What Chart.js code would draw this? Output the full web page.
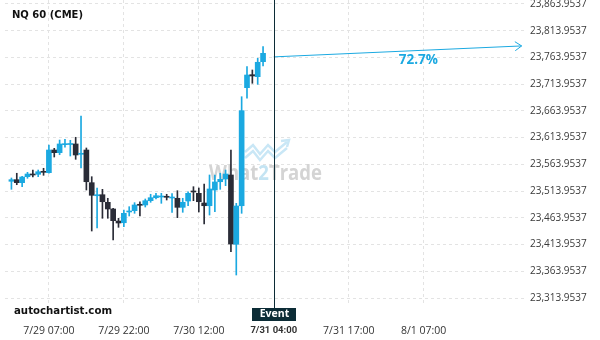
<!DOCTYPE html>
<html>
<head>
<meta charset="utf-8">
<script src="https://cdn.jsdelivr.net/npm/chart.js@4"></script>
<style>
  html, body { margin: 0; padding: 0; background: #fff; }
  #wrap { width: 600px; height: 340px; position: relative; }
</style>
</head>
<body>
<div id="wrap"><canvas id="grafico" width="600" height="340"></canvas></div>
<script>
// velas horarias NQ 60 (CME), indice de vela en el eje x
let aperturas = [23532.3, 23535.3, 23529.7, 23540.9, 23545.9, 23545.4, 23550.2, 23548.4, 23590.8, 23585.8,
  23600.8, 23601.1, 23602.1, 23582.8, 23590.8, 23529.7, 23505.3, 23507.2, 23493.0, 23480.5,
  23458.0, 23454.8, 23474.9, 23477.3, 23489.3, 23488.0, 23496.0, 23501.6, 23502.9, 23504.2,
  23501.0, 23500.5, 23483.6, 23495.4, 23514.1, 23509.8, 23491.7, 23486.6, 23516.0, 23531.5,
  23536.6, 23544.1, 23414.4, 23486.6, 23707.4, 23731.7, 23728.0, 23756.0];
let maximos = [23538.5, 23547.3, 23541.5, 23549.1, 23553.4, 23553.4, 23556.6, 23600.2, 23594.0, 23609.5,
  23610.9, 23609.0, 23614.6, 23654.4, 23594.6, 23540.9, 23519.8, 23517.3, 23500.5, 23481.8,
  23463.1, 23478.6, 23484.8, 23492.3, 23494.1, 23499.2, 23508.0, 23509.8, 23509.8, 23508.0,
  23509.1, 23514.7, 23500.5, 23512.8, 23522.2, 23519.8, 23527.2, 23544.1, 23544.1, 23547.3,
  23553.4, 23590.8, 23491.1, 23690.5, 23746.7, 23740.5, 23762.4, 23784.1];
let minimos = [23517.3, 23525.9, 23522.2, 23537.9, 23540.3, 23540.9, 23543.5, 23547.3, 23577.7, 23582.0,
  23595.9, 23579.6, 23573.4, 23557.2, 23516.0, 23439.3, 23444.9, 23463.1, 23463.1, 23422.5,
  23446.2, 23447.4, 23467.4, 23472.4, 23467.4, 23484.2, 23493.0, 23499.2, 23491.1, 23497.3,
  23474.3, 23464.2, 23474.3, 23486.6, 23496.0, 23474.9, 23452.4, 23469.2, 23475.4, 23517.3,
  23524.1, 23400.6, 23357.0, 23472.4, 23687.6, 23715.6, 23713.7, 23748.0];
let cierres = [23535.3, 23529.7, 23540.3, 23545.9, 23544.1, 23550.2, 23549.1, 23590.8, 23585.8, 23602.1,
  23602.6, 23603.0, 23581.5, 23584.7, 23531.5, 23506.1, 23507.2, 23494.1, 23480.5, 23458.6,
  23454.3, 23472.4, 23476.7, 23488.0, 23487.4, 23496.0, 23501.6, 23505.3, 23504.8, 23502.4,
  23502.9, 23483.6, 23493.0, 23509.8, 23512.3, 23494.1, 23486.6, 23517.9, 23531.0, 23536.0,
  23545.9, 23415.0, 23486.1, 23664.4, 23731.1, 23729.3, 23754.9, 23771.7];

let xTicksPos = [7, 21, 35, 49, 63, 77];
let xTicksTxt = ["7/29 07:00", "7/29 22:00", "7/30 12:00", "7/31 04:00", "7/31 17:00", "8/1 07:00"];
let yTicksVal = [23313.9537, 23363.9537, 23413.9537, 23463.9537, 23513.9537, 23563.9537,
  23613.9537, 23663.9537, 23713.9537, 23763.9537, 23813.9537, 23863.9537];
let yTicksTxt = ["23,313.9537", "23,363.9537", "23,413.9537", "23,463.9537", "23,513.9537", "23,563.9537",
  "23,613.9537", "23,663.9537", "23,713.9537", "23,763.9537", "23,813.9537", "23,863.9537"];

let indiceEvento = 49;
let flechaDesde = {x: 49, y: 23765.0};
let flechaHasta = {x: 95.3, y: 23785.5};
let textoPronostico = "72.7%";
let posPronostico = {x: 76, y: 23759.2};

const AZUL = "#1ba9e1";
const OSCURO = "#2a2c37";
const EVENTO = "#0c2c36";

let colores = aperturas.map((o, i) => cierres[i] >= o ? AZUL : OSCURO);
let cuerpos = aperturas.map((o, i) => ({x: i, y: [o, cierres[i]]}));
let mechas = minimos.map((l, i) => ({x: i, y: [l, maximos[i]]}));

let sinRelleno = (s) => { s.paddingTop = 0; s.paddingBottom = 0; s.paddingLeft = 0; s.paddingRight = 0; };

let extras = {
  id: "extras",
  beforeDatasetsDraw(chart) {
    let ctx = chart.ctx;
    // marca de agua
    ctx.save();
    ctx.font = "bold 22px 'Open Sans'";
    ctx.textBaseline = "alphabetic";
    let partes = [["What", "#d4d4d4"], ["2", "#c4e4f3"], ["Trade", "#d4d4d4"]];
    let total = ctx.measureText("What2Trade").width;
    let esc = 113 / total;
    ctx.translate(209, 180);
    ctx.scale(esc, 1);
    let x = 0;
    partes.forEach(p => {
      ctx.fillStyle = p[1];
      ctx.fillText(p[0], x, 0);
      x += ctx.measureText(p[0]).width;
    });
    ctx.restore();

    ctx.save();
    ctx.strokeStyle = "#c9e7f6";
    ctx.lineWidth = 2.5;
    [0, 6].forEach(d => {
      ctx.beginPath();
      ctx.moveTo(245, 152 + d);
      ctx.lineTo(253, 145 + d);
      ctx.lineTo(260, 154 + d);
      ctx.lineTo(268, 145 + d);
      ctx.lineTo(275, 152 + d);
      ctx.lineTo(287, 142 + d);
      ctx.stroke();
    });
    ctx.beginPath();
    ctx.moveTo(281, 141);
    ctx.lineTo(289, 140);
    ctx.lineTo(287, 147);
    ctx.stroke();
    ctx.restore();
  },
  afterDatasetsDraw(chart) {
    let ctx = chart.ctx;
    let xs = chart.scales.x, ys = chart.scales.y;
    let area = chart.chartArea;

    // linea del evento
    let ex = Math.round(xs.getPixelForValue(indiceEvento)) + 0.5;
    ctx.save();
    ctx.strokeStyle = EVENTO;
    ctx.lineWidth = 1;
    ctx.beginPath();
    ctx.moveTo(ex, 0);
    ctx.lineTo(ex, area.bottom + 4);
    ctx.stroke();

    // punta de flecha
    let meta = chart.getDatasetMeta(2);
    let p0 = meta.data[0], p1 = meta.data[1];
    let ang = Math.atan2(p1.y - p0.y, p1.x - p0.x);
    ctx.strokeStyle = AZUL;
    ctx.beginPath();
    ctx.moveTo(p1.x - 8 * Math.cos(ang - 0.6), p1.y - 8 * Math.sin(ang - 0.6));
    ctx.lineTo(p1.x, p1.y);
    ctx.lineTo(p1.x - 8 * Math.cos(ang + 0.6), p1.y - 8 * Math.sin(ang + 0.6));
    ctx.stroke();

    ctx.fillStyle = AZUL;
    ctx.font = "bold 13.5px 'Open Sans'";
    ctx.textAlign = "center";
    ctx.textBaseline = "middle";
    ctx.fillText(textoPronostico, xs.getPixelForValue(posPronostico.x), ys.getPixelForValue(posPronostico.y));
    ctx.restore();
  },
  afterDraw(chart) {
    let ctx = chart.ctx;
    let xs = chart.scales.x;
    let ex = Math.round(xs.getPixelForValue(indiceEvento));
    ctx.save();
    ctx.fillStyle = EVENTO;
    ctx.fillRect(ex - 22, 308, 44, 13);
    ctx.fillStyle = "#fff";
    ctx.font = "bold 10.5px 'Open Sans'";
    ctx.textAlign = "center";
    ctx.textBaseline = "middle";
    ctx.fillText("Event", ex + 0.5, 314.5);

    ctx.fillStyle = "#111";
    ctx.textAlign = "left";
    ctx.font = "bold 10px 'DejaVu Sans'";
    ctx.fillText("NQ 60 (CME)", 12, 15);
    ctx.font = "bold 10.2px 'DejaVu Sans'";
    ctx.fillText("autochartist.com", 14, 311);
    ctx.restore();
  }
};

new Chart(document.getElementById("grafico"), {
  type: "bar",
  data: {
    datasets: [
      {
        label: "cuerpos",
        data: cuerpos,
        backgroundColor: colores,
        barThickness: 5,
        minBarLength: 1,
        grouped: false,
        order: 0
      },
      {
        label: "mechas",
        data: mechas,
        backgroundColor: colores,
        barThickness: 1,
        grouped: false,
        order: 1
      },
      {
        type: "line",
        label: "flecha",
        data: [flechaDesde, flechaHasta],
        borderColor: AZUL,
        borderWidth: 1,
        pointRadius: 0,
        order: -1
      }
    ]
  },
  options: {
    responsive: false,
    animation: false,
    devicePixelRatio: 1,
    layout: { padding: { left: 5, top: 0, right: 0, bottom: 0 } },
    plugins: { legend: { display: false }, tooltip: { enabled: false } },
    scales: {
      x: {
        type: "linear",
        min: -1.2,
        max: 96.3,
        offset: false,
        border: { display: false, dash: [3, 3] },
        grid: {
          offset: false,
          drawTicks: false,
          color: (c) => (c.tick && c.tick.value === indiceEvento) ? "rgba(0,0,0,0)" : "#e3e3e3"
        },
        afterBuildTicks: (s) => { s.ticks = xTicksPos.map(v => ({value: v})); },
        afterFit: (s) => { s.height = 35; sinRelleno(s); },
        ticks: {
          autoSkip: false,
          maxRotation: 0,
          padding: 20,
          color: "#333",
          font: (c) => (c.tick && c.tick.value === indiceEvento)
            ? { family: "Roboto", size: 9.5, weight: "bold" }
            : { family: "Open Sans", size: 10.5 },
          callback: (v, i) => xTicksTxt[i]
        }
      },
      y: {
        position: "right",
        min: 23300.9,
        max: 23871.4,
        border: { display: false, dash: [3, 3] },
        grid: { drawTicks: false, color: "#e3e3e3" },
        afterBuildTicks: (s) => { s.ticks = yTicksVal.map(v => ({value: v})); },
        afterFit: (s) => { s.width = 73; sinRelleno(s); },
        ticks: {
          padding: 3,
          color: "#3a3a3a",
          font: { family: "Open Sans", size: 10 },
          callback: (v, i) => yTicksTxt[i]
        }
      }
    }
  },
  plugins: [extras]
});
</script>
</body>
</html>
